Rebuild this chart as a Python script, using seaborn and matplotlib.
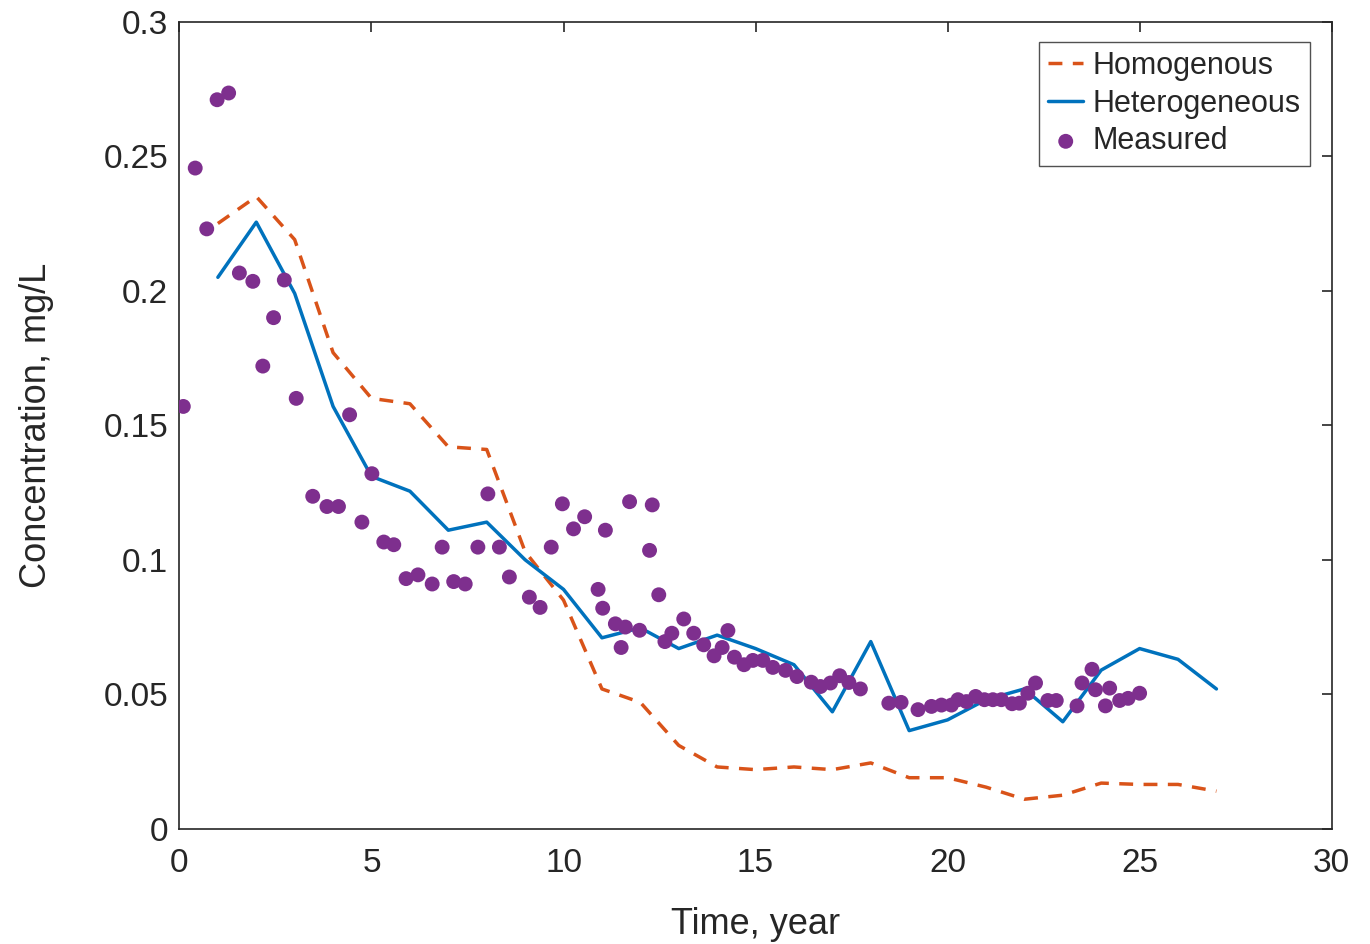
import numpy as np
import pandas as pd
import matplotlib
matplotlib.use("Agg")
import matplotlib.pyplot as plt
import seaborn as sns

# model curves, one value per year
years = list(range(1, 28))
homogenous = [0.225, 0.235, 0.219, 0.177, 0.160, 0.158, 0.142, 0.141, 0.103, 0.085,
              0.052, 0.047, 0.031, 0.023, 0.022, 0.023, 0.022, 0.0245, 0.019, 0.019,
              0.0155, 0.011, 0.0125, 0.017, 0.0165, 0.0165, 0.014]
heterogeneous = [0.205, 0.2255, 0.199, 0.157, 0.131, 0.1255, 0.111, 0.114, 0.100, 0.089,
                 0.071, 0.0747, 0.067, 0.072, 0.067, 0.061, 0.0435, 0.0696, 0.0365, 0.0405,
                 0.048, 0.052, 0.0398, 0.059, 0.067, 0.063, 0.052]

# measured samples
meas_t = [0.1, 0.41, 0.71, 0.98, 1.28, 1.56, 1.91, 2.17, 2.45, 2.73,
          3.04, 3.47, 3.84, 4.14, 4.43, 4.75, 5.01, 5.32, 5.58, 5.9,
          6.21, 6.58, 6.84, 7.14, 7.44, 7.77, 8.03, 8.33, 8.59, 9.11,
          9.39, 9.68, 9.97, 10.26, 10.55, 10.9, 11.02, 11.09, 11.35, 11.5,
          11.61, 11.72, 11.98, 12.24, 12.31, 12.48, 12.64, 12.82, 13.13, 13.39,
          13.65, 13.92, 14.13, 14.28, 14.45, 14.70, 14.93, 15.19, 15.45, 15.78,
          16.08, 16.45, 16.69, 16.95, 17.19, 17.43, 17.73, 18.47, 18.79, 19.23,
          19.58, 19.84, 20.1, 20.27, 20.49, 20.73, 20.96, 21.18, 21.4, 21.68,
          21.87, 22.09, 22.29, 22.61, 22.83, 23.37, 23.5, 23.76, 23.85, 24.11,
          24.22, 24.48, 24.7, 25.0]
meas_c = [0.157, 0.2456, 0.223, 0.271, 0.2735, 0.2066, 0.2035, 0.172, 0.190, 0.204,
          0.160, 0.1236, 0.1198, 0.1198, 0.1539, 0.114, 0.132, 0.1066, 0.1056, 0.093,
          0.0944, 0.091, 0.1047, 0.0919, 0.091, 0.1047, 0.1245, 0.1047, 0.0936, 0.0861,
          0.0823, 0.1047, 0.1208, 0.1115, 0.116, 0.089, 0.082, 0.111, 0.0762, 0.0674,
          0.075, 0.1216, 0.0738, 0.1035, 0.1204, 0.087, 0.0696, 0.0727, 0.078, 0.0727,
          0.0684, 0.0643, 0.0674, 0.0737, 0.0638, 0.061, 0.0626, 0.0626, 0.060, 0.0589,
          0.0566, 0.0545, 0.0529, 0.0542, 0.0569, 0.0544, 0.052, 0.0467, 0.047, 0.0443,
          0.0455, 0.046, 0.046, 0.048, 0.0473, 0.0492, 0.048, 0.048, 0.048, 0.0465,
          0.0467, 0.0504, 0.0542, 0.0477, 0.0477, 0.0457, 0.0542, 0.0593, 0.0517, 0.0457,
          0.0523, 0.0477, 0.0485, 0.0504]

sns.set_style("white")
plt.rcParams['font.family'] = ['Liberation Sans', 'DejaVu Sans']

models = pd.DataFrame({'t': years, 'Homogenous': homogenous, 'Heterogeneous': heterogeneous})
measured = pd.DataFrame({'t': meas_t, 'c': meas_c})

fig = plt.figure(figsize=(13.7, 9.44), dpi=100)
ax = fig.add_axes([0.131, 0.122, 0.841, 0.855])

sns.lineplot(data=models, x='t', y='Homogenous', ax=ax, color='#D95319', lw=2.5,
             linestyle=(0, (4, 3)), label='Homogenous')
sns.lineplot(data=models, x='t', y='Heterogeneous', ax=ax, color='#0072BD', lw=2.5,
             label='Heterogeneous')
sns.scatterplot(data=measured, x='t', y='c', ax=ax, color='#7E2F8E', s=115,
                edgecolor='none', label='Measured', zorder=3)

ax.set_xlim(0, 30)
ax.set_ylim(0, 0.3)
ax.set_xticks([0, 5, 10, 15, 20, 25, 30])
ax.set_yticks([0, 0.05, 0.1, 0.15, 0.2, 0.25, 0.3])
ax.set_yticklabels(['0', '0.05', '0.1', '0.15', '0.2', '0.25', '0.3'])
ax.tick_params(direction='in', length=7, width=1.2, labelsize=24, colors='#262626',
               top=True, right=True, pad=8)
ax.tick_params(axis='x', pad=14)
for sp in ax.spines.values():
    sp.set_color('#262626')
    sp.set_linewidth(1.2)
ax.set_xlabel('Time, year', fontsize=26, color='#262626', labelpad=20)
ax.set_ylabel('Concentration, mg/L', fontsize=26, color='#262626', labelpad=36)

leg = ax.legend(loc='upper right', fontsize=22, frameon=True, fancybox=False,
                edgecolor='#262626', handlelength=1.15, handletextpad=0.3,
                borderpad=0.3, labelspacing=0.25, borderaxespad=0,
                bbox_to_anchor=(0.981, 0.975))
leg.get_frame().set_linewidth(1.0)

fig.savefig('out.png', dpi=100)
